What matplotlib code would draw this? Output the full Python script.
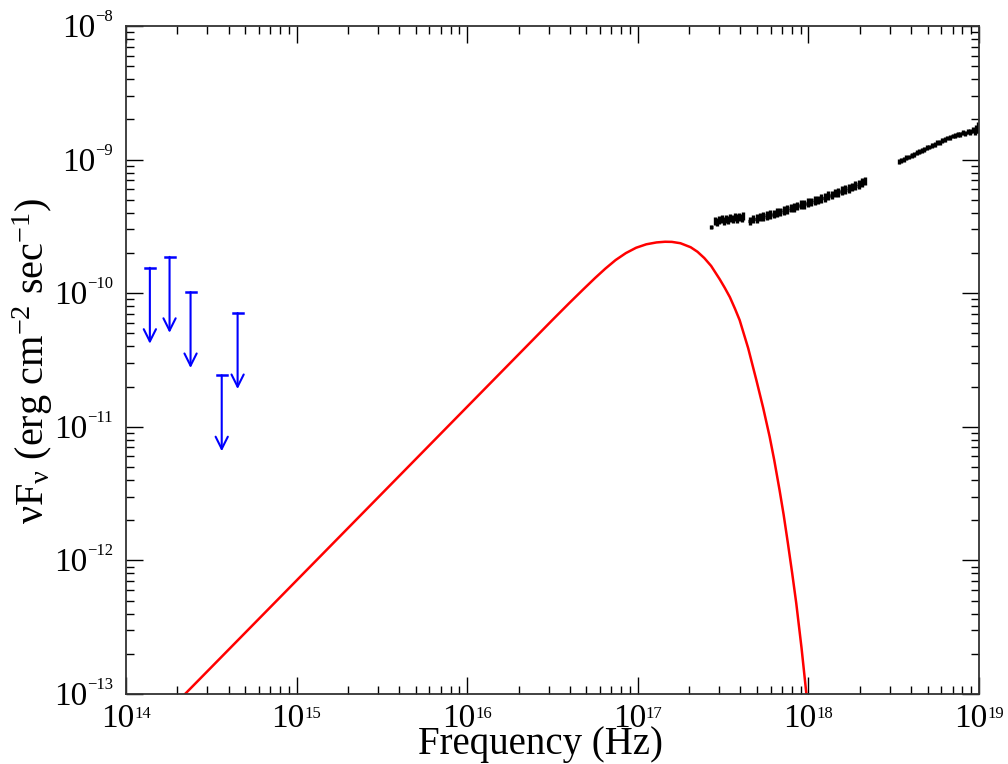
import numpy as np
import matplotlib
matplotlib.use("Agg")
import matplotlib.pyplot as plt
from matplotlib.ticker import LogLocator, NullFormatter
from matplotlib.transforms import blended_transform_factory, offset_copy

plt.rcParams['font.family'] = 'Liberation Serif'
plt.rcParams['mathtext.fontset'] = 'custom'
plt.rcParams['mathtext.rm'] = 'Liberation Serif'
plt.rcParams['mathtext.it'] = 'Liberation Serif:italic'

## Model curve (log10 nu, log10 nuFnu)
model_lognu = [14.346, 15.0, 15.5, 16.0, 16.5, 16.60, 16.68, 16.75, 16.81, 16.87, 16.93,
               16.99, 17.05, 17.11, 17.16, 17.20, 17.25, 17.31, 17.35, 17.39, 17.43,
               17.48, 17.51, 17.54, 17.57, 17.597, 17.647, 17.695, 17.735, 17.773, 17.80,
               17.831, 17.855, 17.880, 17.905, 17.929, 17.96, 17.988, 18.0]
model_logf = [-13.0, -12.15, -11.50, -10.85, -10.20, -10.072, -9.972, -9.886, -9.816, -9.752,
              -9.700, -9.660, -9.634, -9.620, -9.615, -9.616, -9.626, -9.656, -9.690, -9.737,
              -9.796, -9.895, -9.960, -10.030, -10.117, -10.201, -10.411, -10.650, -10.858,
              -11.074, -11.250, -11.473, -11.658, -11.872, -12.095, -12.321, -12.656,
              -12.995, -13.15]

## Optical/UV upper limits
ul_nu = [1.38e14, 1.80e14, 2.39e14, 3.64e14, 4.51e14]
ul_f = [1.55e-10, 1.87e-10, 1.02e-10, 2.43e-11, 7.1e-11]

## X-ray data, three pieces (log10 nu, log10 nuFnu, log error)
seg1_lognu = [17.431, 17.452, 17.465, 17.478, 17.491, 17.504, 17.517, 17.530, 17.543,
              17.556, 17.569, 17.582, 17.595, 17.608, 17.618]
seg1_logf = [-9.507, -9.462, -9.470, -9.455, -9.448, -9.460, -9.445, -9.452, -9.438,
             -9.447, -9.430, -9.441, -9.428, -9.436, -9.425]
seg1_err = [0.015] + [0.030] * 14

seg2_lognu = [17.656, 17.676, 17.696, 17.716, 17.736, 17.756, 17.776, 17.796, 17.816,
              17.836, 17.856, 17.876, 17.896, 17.916, 17.936, 17.956, 17.976, 17.996,
              18.016, 18.036, 18.056, 18.076, 18.096, 18.116, 18.136, 18.156, 18.176,
              18.196, 18.216, 18.236, 18.256, 18.276, 18.296, 18.316, 18.329]
seg2_logf = [-9.458, -9.445, -9.442, -9.430, -9.428, -9.418, -9.412, -9.408, -9.395,
             -9.392, -9.380, -9.375, -9.362, -9.358, -9.348, -9.338, -9.335, -9.322,
             -9.318, -9.305, -9.302, -9.290, -9.285, -9.270, -9.265, -9.250, -9.246,
             -9.232, -9.225, -9.215, -9.205, -9.194, -9.185, -9.172, -9.160]
seg2_err = [0.032] * 35

seg3_lognu = [18.530, 18.545, 18.560, 18.575, 18.590, 18.605, 18.620, 18.635, 18.650,
              18.665, 18.680, 18.695, 18.710, 18.725, 18.740, 18.755, 18.770, 18.785,
              18.800, 18.815, 18.830, 18.845, 18.860, 18.875, 18.890, 18.905, 18.920,
              18.935, 18.950, 18.965, 18.975, 18.985, 18.995]
seg3_logf = [-9.016, -9.004, -8.998, -8.986, -8.980, -8.968, -8.962, -8.950, -8.942,
             -8.932, -8.924, -8.912, -8.906, -8.893, -8.888, -8.874, -8.870, -8.856,
             -8.852, -8.838, -8.836, -8.824, -8.822, -8.812, -8.812, -8.800, -8.804,
             -8.790, -8.796, -8.780, -8.788, -8.770, -8.760]
seg3_err = [0.018] * 28 + [0.022, 0.022, 0.028, 0.028, 0.042]

xtick_exp = [14, 15, 16, 17, 18, 19]
ytick_exp = [-13, -12, -11, -10, -9, -8]


def draw_segment(ax, lognu, logf, err, half_bin):
    lognu = np.array(lognu)
    logf = np.array(logf)
    err = np.array(err)
    nu = 10 ** lognu
    f = 10 ** logf
    yerr = [f - 10 ** (logf - err), 10 ** (logf + err) - f]
    xerr = [nu - 10 ** (lognu - half_bin), 10 ** (lognu + half_bin) - nu]
    ax.errorbar(nu, f, yerr=yerr, xerr=xerr, fmt='none', ecolor='black',
                elinewidth=2.4, capsize=0)


fig = plt.figure(figsize=(10.08, 7.64), dpi=100)
ax = fig.add_axes([0.125, 0.0916, 0.8462, 0.8744])
ax.set_xscale('log')
ax.set_yscale('log')
ax.set_xlim(1e14, 1e19)
ax.set_ylim(1e-13, 1e-8)

## model
ax.plot(10 ** np.array(model_lognu), 10 ** np.array(model_logf), color='red', lw=1.8)

## upper limits
for x, y in zip(ul_nu, ul_f):
    ax.annotate('', xy=(x, y * 0.27), xytext=(x, y),
                arrowprops=dict(arrowstyle='->', color='blue', lw=1.5,
                                mutation_scale=22, shrinkA=0, shrinkB=0))
    ax.plot([x / 1.07, x * 1.07], [y, y], color='blue', lw=1.8)

## X-ray data
draw_segment(ax, seg1_lognu, seg1_logf, seg1_err, 0.007)
draw_segment(ax, seg2_lognu, seg2_logf, seg2_err, 0.010)
draw_segment(ax, seg3_lognu, seg3_logf, seg3_err, 0.0075)

## axes cosmetics
for axis in (ax.xaxis, ax.yaxis):
    axis.set_major_locator(LogLocator(base=10, numticks=10))
    axis.set_minor_locator(LogLocator(base=10, subs=np.arange(2, 10), numticks=20))
    axis.set_minor_formatter(NullFormatter())
    axis.set_major_formatter(NullFormatter())
ax.tick_params(which='both', direction='in', top=True, right=True, width=1.0,
               colors='black')
ax.tick_params(which='major', length=12)
ax.tick_params(which='minor', length=6)
for sp in ax.spines.values():
    sp.set_linewidth(1.3)
    sp.set_color('#333333')

## tick labels drawn by hand: big "10" with a small raised exponent
main_size = 24
sup_size = 12
fig.canvas.draw()
renderer = fig.canvas.get_renderer()
bx = blended_transform_factory(ax.transData, ax.transAxes)
for e in xtick_exp:
    sup = ax.text(10.0 ** e, 0, str(e), fontsize=sup_size, ha='left', va='baseline',
                  transform=offset_copy(bx, fig=fig, x=0, y=-27.5, units='dots'))
    w = sup.get_window_extent(renderer).width
    main_w = 33.0
    shift = (main_w + w) / 2 - w
    sup.set_transform(offset_copy(bx, fig=fig, x=shift, y=-23.5, units='dots'))
    ax.text(10.0 ** e, 0, '10', fontsize=main_size, ha='right', va='baseline',
            transform=offset_copy(bx, fig=fig, x=shift, y=-33, units='dots'))

by = blended_transform_factory(ax.transAxes, ax.transData)
for e in ytick_exp:
    label = '\u2212' + str(-e)
    sup = ax.text(0, 10.0 ** e, label, fontsize=sup_size, ha='right', va='baseline',
                  transform=offset_copy(by, fig=fig, x=-13, y=5, units='dots'))
    w = sup.get_window_extent(renderer).width
    ax.text(0, 10.0 ** e, '10', fontsize=main_size, ha='right', va='baseline',
            transform=offset_copy(by, fig=fig, x=-13 - w, y=-11, units='dots'))

fig.text(540 / 1008, 1 - 754 / 764, 'Frequency (Hz)', fontsize=28,
         ha='center', va='baseline')
fig.text(33 / 1008, 1 - 361 / 764, r'νF$_{\mathrm{ν}}$ (erg cm$^{-2}$ sec$^{-1}$)',
         fontsize=29, rotation=90, ha='center', va='center')

fig.savefig('out.png', dpi=100)
